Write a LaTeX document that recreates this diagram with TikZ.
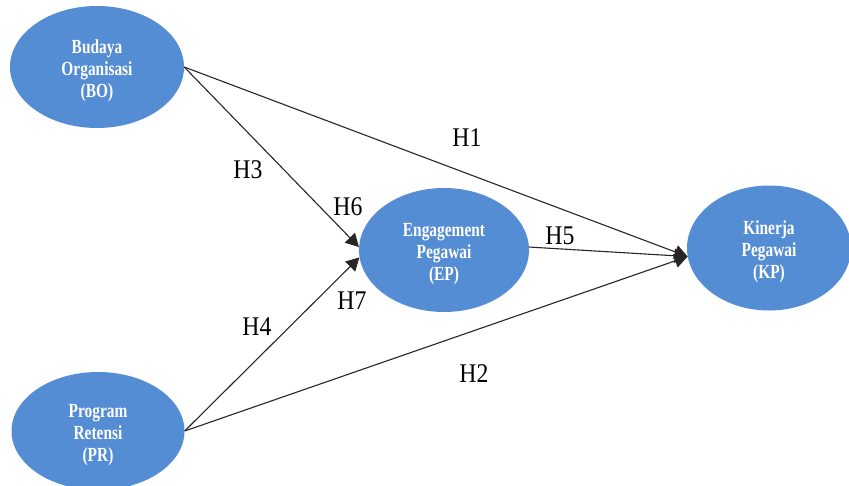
\documentclass[tikz,border=0pt]{standalone}
\usepackage{fontspec}
\usetikzlibrary{shapes.geometric,arrows.meta}
\newfontfamily\nodefont[FakeStretch=0.77]{Liberation Serif}
\newfontfamily\labfont[FakeStretch=0.88]{Liberation Serif}
\definecolor{ellblue}{RGB}{84,141,212}
\newcommand{\vtext}[1]{\raisebox{-9.5pt}[0pt][0pt]{\begin{tabular}{@{}c@{}}#1\end{tabular}}}
\tikzset{
  var/.style={ellipse, fill=ellblue, draw=none, inner sep=0pt,
    text=white, align=center, font=\nodefont\bfseries\fontsize{20}{21.7}\selectfont},
  conn/.style={draw=black!85, line width=1.1pt, -{Triangle[length=13pt,width=14pt]}},
  hlab/.style={font=\labfont\fontsize{27}{30}\selectfont, text=black, inner sep=0pt}
}
\begin{document}
\begin{tikzpicture}[x=1pt,y=-1pt]
\useasboundingbox (0,0) rectangle (849,485);
\node[var, minimum width=174pt, minimum height=122pt] (BO) at (97,67) {\vtext{Budaya\\Organisasi\\(BO)}};
\node[var, minimum width=173pt, minimum height=118pt] (PR) at (98,431) {\vtext{Program\\Retensi\\(PR)}};
\node[var, minimum width=170pt, minimum height=124pt] (EP) at (444,250) {\vtext{Engagement\\Pegawai\\(EP)}};
\node[var, minimum width=164pt, minimum height=125pt] (KP) at (769,248) {\vtext{Kinerja\\Pegawai\\(KP)}};
\draw[conn] (BO.east) -- (KP.186);
\draw[conn] (BO.east) -- (EP.178);
\draw[conn] (PR.east) -- (EP.185);
\draw[conn] (PR.east) -- (KP.186);
\draw[conn] (EP.2) -- (KP.186);
\node[hlab] (h1) at (467,138) {H1};
\node[hlab] (h2) at (474,374) {H2};
\node[hlab] (h3) at (248,170) {H3};
\node[hlab] (h4) at (257,327) {H4};
\node[hlab] (h5) at (560,236) {H5};
\node[hlab] (h6) at (348,207) {H6};
\node[hlab] (h7) at (352,301) {H7};
\end{tikzpicture}
\end{document}
